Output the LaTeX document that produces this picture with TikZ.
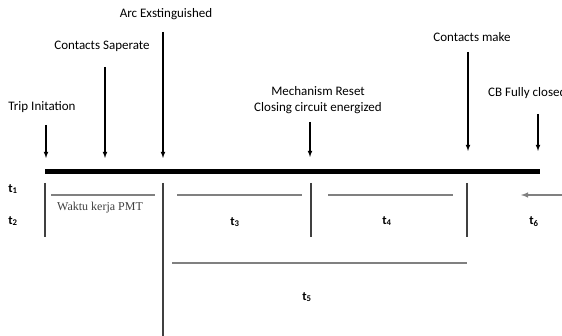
\documentclass[tikz,border=0pt]{standalone}
\usepackage{fontspec}
\setmainfont{Carlito}
\newfontfamily\pmtfont{Liberation Serif}
\usetikzlibrary{arrows}

\begin{document}
\begin{tikzpicture}[x=1pt,y=-1pt,
	lbl/.style={font=\fontsize{13}{16}\selectfont, inner sep=0pt, align=center},
	tlbl/.style={font=\bfseries\fontsize{12.5}{14}\selectfont, inner sep=0pt},
	evt/.style={-latex, line width=1.1pt},
	span/.style={draw=gray, line width=1.4pt},
	divider/.style={draw=black!75, line width=1.8pt}]
	\useasboundingbox (0,0) rectangle (562,336);
	% time axis
		\coordinate (S) at (45,172);
		\coordinate (E) at (540,172);
		\draw[line width=5pt] (S) -- (E);
	% events
		\node[lbl] (trip) at (42,107) {Trip Initation};
		\node[lbl] (sep) at (102,46) {Contacts Saperate};
		\node[lbl] (arc) at (166,14) {Arc Exstinguished};
		\node[lbl] (reset) at (318,100) {Mechanism Reset\\Closing circuit energized};
		\node[lbl] (make) at (472,37) {Contacts make};
		\node[lbl, anchor=west] (closed) at (488,93) {CB Fully closed};
		\coordinate (tripA) at (46,125);   \coordinate (tripB) at (46,158);
		\coordinate (sepA) at (105,67);    \coordinate (sepB) at (105,158);
		\coordinate (arcA) at (163,32);    \coordinate (arcB) at (163,158);
		\coordinate (resetA) at (310,122); \coordinate (resetB) at (310,157);
		\coordinate (makeA) at (468,52);   \coordinate (makeB) at (468,151);
		\coordinate (closedA) at (538,114);\coordinate (closedB) at (538,151);
		\draw[evt] (tripA) -- (tripB);
		\draw[evt] (sepA) -- (sepB);
		\draw[evt] (arcA) -- (arcB);
		\draw[evt] (resetA) -- (resetB);
		\draw[evt] (makeA) -- (makeB);
		\draw[evt] (closedA) -- (closedB);
	% intervals
		\node[tlbl] (t1) at (13,189) {t\textsubscript{1}};
		\node[tlbl] (t2) at (13,221) {t\textsubscript{2}};
		\draw[divider] (45,183) -- (45,237);
		\draw[divider] (163,183) -- (163,336);
		\draw[divider] (311,183) -- (311,237);
		\draw[divider] (467,183) -- (467,237);
		\draw[span] (51,195) -- (155,195);
		\node[inner sep=0pt, font=\pmtfont\fontsize{12}{14}\selectfont, text=black!75] (pmt) at (100,208) {Waktu kerja PMT};
		\draw[span] (177,195) -- (302,195);
		\node[tlbl] (t3) at (235,222) {t\textsubscript{3}};
		\draw[span] (328,195) -- (453,195);
		\node[tlbl] (t4) at (387,221) {t\textsubscript{4}};
		\coordinate (t6A) at (562,195);
		\coordinate (t6B) at (521,195);
		\draw[span, -latex] (t6A) -- (t6B);
		\node[tlbl] (t6) at (534,222) {t\textsubscript{6}};
		\draw[span] (172,263) -- (467,263);
		\node[tlbl] (t5) at (307,297) {t\textsubscript{5}};
\end{tikzpicture}
\end{document}
